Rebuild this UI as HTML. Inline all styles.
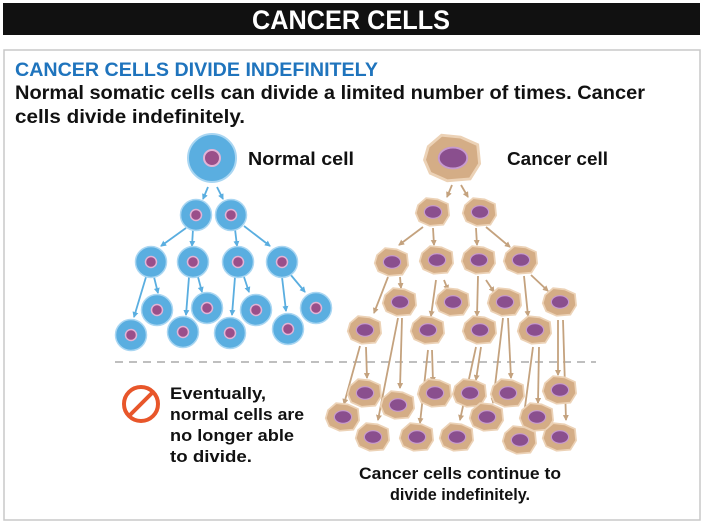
<!DOCTYPE html>
<html><head><meta charset="utf-8"><style>
html,body{margin:0;padding:0;background:#fff;width:704px;height:524px;overflow:hidden}
text{font-family:"Liberation Sans Narrow","Liberation Sans",sans-serif;font-weight:bold}
</style></head><body>
<svg width="704" height="524" viewBox="0 0 704 524" xmlns="http://www.w3.org/2000/svg">
<defs>
<marker id="ab" markerWidth="6" markerHeight="6" refX="5" refY="3" orient="auto" markerUnits="userSpaceOnUse"><path d="M0,0 L6,3 L0,6 z" fill="#5aaee0"/></marker>
<marker id="ac" markerWidth="6" markerHeight="6" refX="5" refY="3" orient="auto" markerUnits="userSpaceOnUse"><path d="M0,0 L6,3 L0,6 z" fill="#c4a27e"/></marker>
<g id="nc"><circle r="15.5" fill="#5aaee0" stroke="#a9d6f2" stroke-width="1.5"/><circle r="5.5" fill="#9a4f8a" stroke="#e3b3d6" stroke-width="1.5"/></g>
<g id="cc0"><path d="M-13,-6 L-6,-12 L4,-11 L13,-7 L14,3 L9,11 L-3,12 L-12,8 L-15,1 z" fill="#d4ad86" stroke="#ecd2b6" stroke-width="1.5"/><ellipse rx="7.5" ry="5.5" fill="#8a4f8e" stroke="#c79ad0" stroke-width="1"/></g>
<g id="cc"><g transform="scale(1.15)"><use href="#cc0"/></g></g>
</defs>
<rect x="3" y="3" width="697" height="32" fill="#111"/>
<text x="351" y="29" text-anchor="middle" fill="#fff" font-size="27" textLength="198" lengthAdjust="spacingAndGlyphs">CANCER CELLS</text>
<rect x="4" y="50" width="696" height="470" fill="#fff" stroke="#c8c8c8" stroke-width="1.5"/>
<text x="15" y="76" fill="#1f74bd" font-size="19" textLength="363" lengthAdjust="spacingAndGlyphs">CANCER CELLS DIVIDE INDEFINITELY</text>
<text x="15" y="99" fill="#111" font-size="19" textLength="630" lengthAdjust="spacingAndGlyphs">Normal somatic cells can divide a limited number of times. Cancer</text>
<text x="15" y="123" fill="#111" font-size="19" textLength="230" lengthAdjust="spacingAndGlyphs">cells divide indefinitely.</text>
<text x="248" y="165" fill="#111" font-size="18" textLength="106" lengthAdjust="spacingAndGlyphs">Normal cell</text>
<text x="507" y="165" fill="#111" font-size="18" textLength="101" lengthAdjust="spacingAndGlyphs">Cancer cell</text>
<g stroke="#5aaee0" stroke-width="1.8" marker-end="url(#ab)">
<line x1="208" y1="187" x2="203" y2="199"/><line x1="217" y1="187" x2="223" y2="199"/>
<line x1="186" y1="228" x2="161" y2="246"/><line x1="193" y1="229" x2="192" y2="246"/>
<line x1="235" y1="229" x2="237" y2="246"/><line x1="244" y1="226" x2="270" y2="246"/>
<line x1="146" y1="277" x2="134" y2="317"/><line x1="154" y1="277" x2="158" y2="293"/>
<line x1="189" y1="277" x2="186" y2="315"/><line x1="198" y1="277" x2="202" y2="292"/>
<line x1="235" y1="277" x2="232" y2="315"/><line x1="244" y1="277" x2="249" y2="292"/>
<line x1="282" y1="277" x2="286" y2="311"/><line x1="290" y1="274" x2="305" y2="292"/>
</g>
<circle cx="212" cy="158" r="24" fill="#5aaee0" stroke="#a9d6f2" stroke-width="2"/><circle cx="212" cy="158" r="8" fill="#9a4f8a" stroke="#e3b3d6" stroke-width="2"/>
<use href="#nc" x="196" y="215"/><use href="#nc" x="231" y="215"/>
<use href="#nc" x="151" y="262"/><use href="#nc" x="193" y="262"/><use href="#nc" x="238" y="262"/><use href="#nc" x="282" y="262"/>
<use href="#nc" x="157" y="310"/><use href="#nc" x="207" y="308"/><use href="#nc" x="256" y="310"/><use href="#nc" x="316" y="308"/>
<use href="#nc" x="131" y="335"/><use href="#nc" x="183" y="332"/><use href="#nc" x="230" y="333"/><use href="#nc" x="288" y="329"/>
<line x1="115" y1="362" x2="596" y2="362" stroke="#aaa" stroke-width="1.5" stroke-dasharray="8,6"/>
<g stroke="#c4a27e" stroke-width="1.8" marker-end="url(#ac)">
<line x1="452" y1="185" x2="447" y2="197"/><line x1="461" y1="185" x2="468" y2="197"/>
<line x1="423" y1="227" x2="399" y2="245"/><line x1="433" y1="228" x2="434" y2="245"/>
<line x1="476" y1="228" x2="477" y2="245"/><line x1="486" y1="227" x2="510" y2="247"/>
<line x1="388" y1="277" x2="374" y2="313"/><line x1="400" y1="277" x2="401" y2="288"/>
<line x1="436" y1="280" x2="431" y2="316"/><line x1="444" y1="280" x2="448" y2="290"/>
<line x1="478" y1="276" x2="477" y2="316"/><line x1="486" y1="280" x2="494" y2="292"/>
<line x1="524" y1="276" x2="528" y2="316"/><line x1="531" y1="275" x2="548" y2="291"/>
<line x1="360" y1="346" x2="344" y2="404"/><line x1="366" y1="347" x2="367" y2="378"/>
<line x1="398" y1="318" x2="378" y2="420"/><line x1="402" y1="318" x2="400" y2="388"/>
<line x1="428" y1="350" x2="420" y2="423"/><line x1="432" y1="350" x2="433" y2="382"/>
<line x1="476" y1="347" x2="460" y2="420"/><line x1="481" y1="347" x2="476" y2="380"/>
<line x1="503" y1="318" x2="493" y2="403"/><line x1="508" y1="318" x2="511" y2="378"/>
<line x1="533" y1="347" x2="523" y2="422"/><line x1="539" y1="347" x2="538" y2="403"/>
<line x1="558" y1="320" x2="558" y2="375"/><line x1="563" y1="320" x2="566" y2="420"/>
</g>
<g transform="translate(453,158) scale(1.9)"><use href="#cc0"/></g>
<use href="#cc" x="433" y="212"/><use href="#cc" x="480" y="212"/>
<use href="#cc" x="392" y="262"/><use href="#cc" x="437" y="260"/><use href="#cc" x="479" y="260"/><use href="#cc" x="521" y="260"/>
<use href="#cc" x="400" y="302"/><use href="#cc" x="453" y="302"/><use href="#cc" x="505" y="302"/><use href="#cc" x="560" y="302"/>
<use href="#cc" x="365" y="330"/><use href="#cc" x="428" y="330"/><use href="#cc" x="480" y="330"/><use href="#cc" x="535" y="330"/>
<use href="#cc" x="365" y="393"/><use href="#cc" x="398" y="405"/><use href="#cc" x="435" y="393"/><use href="#cc" x="470" y="393"/><use href="#cc" x="508" y="393"/><use href="#cc" x="560" y="390"/>
<use href="#cc" x="343" y="417"/><use href="#cc" x="487" y="417"/><use href="#cc" x="537" y="417"/>
<use href="#cc" x="373" y="437"/><use href="#cc" x="417" y="437"/><use href="#cc" x="457" y="437"/><use href="#cc" x="520" y="440"/><use href="#cc" x="560" y="437"/>
<circle cx="141" cy="404" r="17" fill="none" stroke="#e8562a" stroke-width="4"/>
<line x1="129" y1="416" x2="153" y2="392" stroke="#e8562a" stroke-width="4"/>
<g fill="#111" font-size="17">
<text x="170" y="399" textLength="96" lengthAdjust="spacingAndGlyphs">Eventually,</text>
<text x="170" y="420" textLength="134" lengthAdjust="spacingAndGlyphs">normal cells are</text>
<text x="170" y="441" textLength="124" lengthAdjust="spacingAndGlyphs">no longer able</text>
<text x="170" y="462" textLength="82" lengthAdjust="spacingAndGlyphs">to divide.</text>
<text x="460" y="479" text-anchor="middle" textLength="202" lengthAdjust="spacingAndGlyphs">Cancer cells continue to</text>
<text x="460" y="500" text-anchor="middle" textLength="140" lengthAdjust="spacingAndGlyphs">divide indefinitely.</text>
</g>
</svg>
</body></html>
